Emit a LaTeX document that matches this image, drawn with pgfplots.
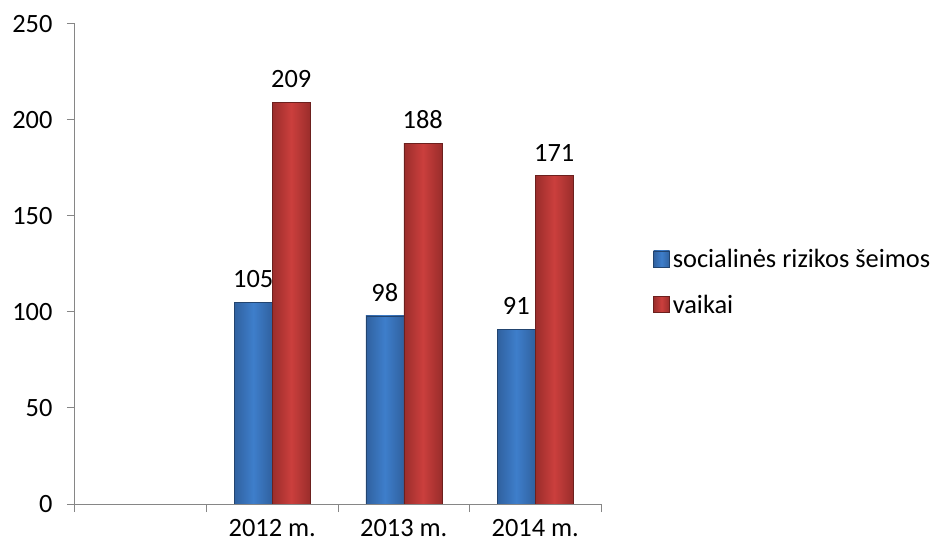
\documentclass[border=0pt]{standalone}
\usepackage{fontspec}
\setmainfont{Carlito}
\usepackage{pgfplots}
\pgfplotsset{compat=1.18}
\definecolor{axgray}{HTML}{868686}
\definecolor{bluemid}{HTML}{3E7ECB}
\definecolor{blueedge}{HTML}{30619F}
\definecolor{redmid}{HTML}{CB3F3D}
\definecolor{rededge}{HTML}{9A2D2B}
\pgfplotsset{
  bluebar/.style={draw=blueedge!70!black, line width=0.5bp, left color=blueedge, right color=blueedge, middle color=bluemid, bar shift=-19bp},
  redbar/.style={draw=rededge!70!black, line width=0.5bp, left color=rededge, right color=rededge, middle color=redmid, bar shift=19bp},
}
\begin{document}
\begin{tikzpicture}
\path[use as bounding box] (-75bp,-44bp) rectangle (862bp,504bp);
\begin{axis}[
  at={(0,0)}, anchor=south west,
  scale only axis,
  width=526bp, height=480bp,
  xmin=-0.5, xmax=3.5,
  ymin=0, ymax=250,
  ytick={0,50,...,250},
  xtick={-0.5,0.5,1.5,2.5,3.5},
  xticklabels={},
  extra x ticks={1,2,3},
  extra x tick labels={2012 m.,2013 m.,2014 m.},
  extra x tick style={major tick length=0pt, tick style={draw=none}},
  axis lines*=left,
  axis line style={axgray, line width=1bp},
  tick style={axgray, line width=1bp},
  tick align=outside,
  major tick length=8bp,
  /pgf/number format/assume math mode=true,
  ticklabel style={font=\fontsize{26.5}{31}\selectfont, text=black},
  yticklabel style={xshift=-11bp},
  xticklabel style={yshift=-12bp},
  ybar=0pt,
  bar width=38bp,
  nodes near coords,
  every node near coord/.append style={font=\fontsize{26.5}{31}\selectfont, text=black, yshift=11bp},
  legend style={draw=none, fill=none, at={(1.099,0.463)}, anchor=west,
    font=\fontsize{26.5}{31}\selectfont, row sep=22bp, inner sep=0pt,
    nodes={inner xsep=3bp},
    /tikz/every even column/.append style={column sep=0pt}},
  legend cell align=left,
]
\addplot[bluebar,
  legend image code/.code={\fill[left color=blueedge, right color=blueedge, middle color=bluemid] (0bp,-8bp) rectangle (16bp,8bp);}]
  coordinates {(1,105)};
\addlegendentry{socialinės rizikos šeimos}
\addplot[redbar,
  legend image code/.code={\fill[left color=rededge, right color=rededge, middle color=redmid] (0bp,-8bp) rectangle (16bp,8bp);}]
  coordinates {(1,209)};
\addlegendentry{vaikai}
\addplot[bluebar, forget plot] coordinates {(2,98)};
\addplot[redbar, forget plot] coordinates {(2,188)};
\addplot[bluebar, forget plot] coordinates {(3,91)};
\addplot[redbar, forget plot] coordinates {(3,171)};
\end{axis}
\end{tikzpicture}
\end{document}
